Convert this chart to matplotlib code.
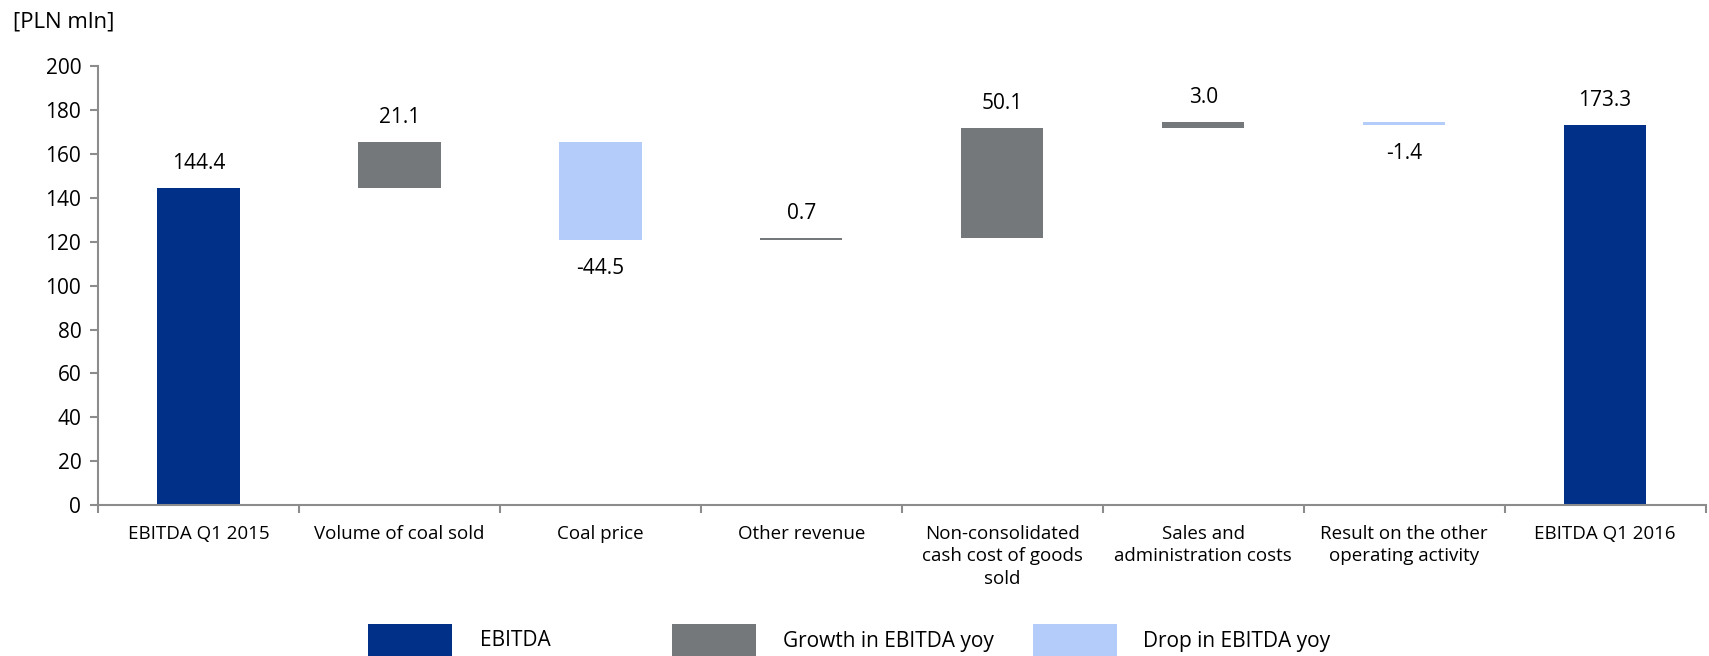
import matplotlib
matplotlib.use("Agg")
import matplotlib.pyplot as plt
from matplotlib.patches import Rectangle
import numpy as np

categories = ["EBITDA Q1 2015", "Volume of coal sold", "Coal price", "Other revenue",
              "Non-consolidated\ncash cost of goods\nsold", "Sales and\nadministration costs",
              "Result on the other\noperating activity", "EBITDA Q1 2016"]
start_value = 144.4
changes = [21.1, -44.5, 0.7, 50.1, 3.0, -1.4]
end_value = 173.3
value_labels = ["144.4", "21.1", "-44.5", "0.7", "50.1", "3.0", "-1.4", "173.3"]
y_ticks = list(range(0, 201, 20))
legend_labels = ["EBITDA", "Growth in EBITDA yoy", "Drop in EBITDA yoy"]

C_TOTAL = "#003087"
C_UP = "#75787B"
C_DOWN = "#B4CCFA"
AXIS_C = "#8c8c8c"

plt.rcParams["font.family"] = ["Open Sans", "DejaVu Sans"]
plt.rcParams["font.weight"] = 500

fig = plt.figure(figsize=(17.09, 6.56), dpi=100)
ax = fig.add_axes([0.0573, 0.230, 0.9407, 0.669])

# waterfall geometry
bottoms, heights, colors = [], [], []
bottoms.append(0); heights.append(start_value); colors.append(C_TOTAL)
level = start_value
for c in changes:
    if c >= 0:
        bottoms.append(level); heights.append(c); colors.append(C_UP)
    else:
        bottoms.append(level + c); heights.append(-c); colors.append(C_DOWN)
    level += c
bottoms.append(0); heights.append(end_value); colors.append(C_TOTAL)

x = np.arange(len(categories))
min_h = 0.6
draw_h = [max(h, min_h) for h in heights]
ax.bar(x, draw_h, bottom=bottoms, width=0.41, color=colors, linewidth=0)

vals = [start_value] + changes + [end_value]
for i, (b, h, v, lab) in enumerate(zip(bottoms, draw_h, vals, value_labels)):
    if v >= 0:
        ax.annotate(lab, (x[i], b + h), xytext=(0, 10), textcoords="offset points",
                    ha="center", va="bottom", fontsize=15)
    else:
        ax.annotate(lab, (x[i], b), xytext=(0, -13), textcoords="offset points",
                    ha="center", va="top", fontsize=15)

ax.set_xlim(-0.5, len(categories) - 0.5)
ax.set_ylim(0, 200)
ax.set_yticks(y_ticks)
ax.tick_params(axis="y", labelsize=15, color=AXIS_C, length=6, width=1.5, pad=6)

ax.set_xticks(np.arange(-0.5, len(categories), 1.0))
ax.set_xticklabels([])
ax.tick_params(axis="x", which="major", color=AXIS_C, length=6, width=1.5)
ax.set_xticks(x, minor=True)
ax.set_xticklabels(categories, minor=True, fontsize=13.5, linespacing=1.35, va="top")
ax.tick_params(axis="x", which="minor", length=0, pad=14)

for s in ["top", "right"]:
    ax.spines[s].set_visible(False)
for s in ["left", "bottom"]:
    ax.spines[s].set_color(AXIS_C)
    ax.spines[s].set_linewidth(1.5)

fig.text(13 / 1709, 1 - 22 / 656, "[PLN mln]", fontsize=16, ha="left", va="center")

# legend row
W, H = 1709, 656
leg_colors = [C_TOTAL, C_UP, C_DOWN]
patch_x = [368, 672, 1033]
text_x = [480, 783, 1143]
for px, tx, col, lab in zip(patch_x, text_x, leg_colors, legend_labels):
    fig.add_artist(Rectangle((px / W, 0), 84 / W, 32 / H, transform=fig.transFigure,
                             color=col, linewidth=0))
    fig.text(tx / W, 15 / H, lab, fontsize=15, ha="left", va="center")

fig.savefig("out.png", dpi=100)
